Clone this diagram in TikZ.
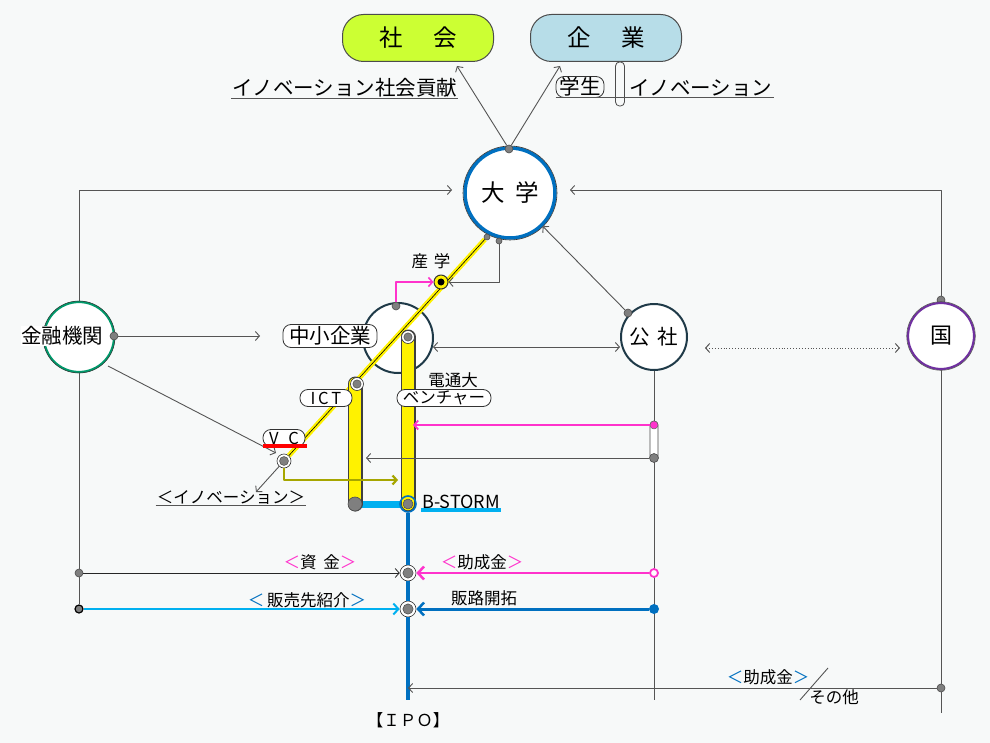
\documentclass[tikz,border=0pt]{standalone}
\usepackage{fontspec}
\setmainfont{Noto Sans CJK JP}
\usetikzlibrary{arrows.meta, calc}
\definecolor{bgcol}{HTML}{F7F9F9}
\definecolor{linegray}{HTML}{555555}
\definecolor{dotgray}{HTML}{7F7F7F}
\definecolor{shakaigreen}{HTML}{CCFF33}
\definecolor{kigyoblue}{HTML}{B7DDE8}
\definecolor{univblue}{HTML}{0070C0}
\definecolor{skyc}{HTML}{00B0F0}
\definecolor{pinkc}{HTML}{FF33CC}
\definecolor{olivec}{HTML}{A6A600}
\definecolor{kinyugreen}{HTML}{00996B}
\definecolor{kunipurple}{HTML}{7030A0}
\definecolor{darkteal}{HTML}{1F3A48}
\newcommand\fsL{\fontsize{23.5}{26}\selectfont}
\newcommand\fsB{\fontsize{20.5}{22}\selectfont}
\newcommand\fsM{\fontsize{16.5}{18}\selectfont}
\tikzset{
  gline/.style={draw=linegray, line width=0.9pt},
  tip/.style={-{Straight Barb[length=4pt,width=9pt]}},
  bigtip/.style={-{Straight Barb[length=6pt,width=13pt,line width=2.5pt]}},
  gdot/.style={circle, fill=dotgray, draw=black!70, line width=0.6pt, minimum size=8pt, inner sep=0pt},
  ringdot/.style={circle, draw=black!80, line width=0.6pt, fill=white, minimum size=#1, inner sep=0pt,
    path picture={\fill[dotgray] (path picture bounding box.center) circle (0.32*#1);
      \draw[black!70, line width=0.5pt] (path picture bounding box.center) circle (0.32*#1);}},
  ringdot/.default=16pt,
  topbox/.style={rounded corners=21pt, draw=black!70, line width=1pt, minimum width=151pt,
    minimum height=47pt, font=\fsL},
  tag/.style={rounded corners=8pt, draw=black!80, line width=0.8pt, fill=white, inner sep=0pt, font=\fsB},
  actor/.style={circle, fill=white, line width=2pt, inner sep=0pt, font=\fsB},
  capsule/.style={rounded corners=4pt, draw=black!70, line width=0.8pt, fill=white, minimum width=9pt, inner sep=0pt}
}
\begin{document}
\begin{tikzpicture}[x=1pt, y=-1pt, line join=round]
\fill[bgcol] (0,0) rectangle (990,743);
\useasboundingbox (0,0) rectangle (990,743);

% society / companies
\node[topbox, fill=shakaigreen] (shakai) at (418,38) {社\hspace{1.3em}会};
\node[topbox, fill=kigyoblue] (kigyo) at (606,38) {企\hspace{1.3em}業};
\coordinate (shakaiIn) at (457,66);
\coordinate (kigyoIn) at (560,66);
\node[anchor=west, font=\fsB, inner sep=1pt] (socinno) at (231,88) {イノベーション社会貢献};
\draw[gline] (socinno.south west) -- (socinno.south east);
\node[tag, minimum width=48pt, minimum height=21pt, fill=bgcol] (gakusei) at (580,87) {学生};
\node[capsule, minimum height=44pt, fill=bgcol] (gbar) at (620,84) {};
\node[anchor=west, font=\fsB, inner sep=1pt] (kiginno) at (628,88) {イノベーション};
\draw[gline] (gakusei.west |- kiginno.south) -- (kiginno.south east);

% frame lines
\coordinate (uLeft) at (452,190);
\coordinate (uRight) at (570,190);
\node[gdot] (kuniTop) at (941,300) {};
\draw[gline, tip] (79,302) |- (uLeft);
\draw[gline, tip] (kuniTop) |- (uRight);

% actors
\node[actor, minimum size=90pt, draw=univblue, line width=3.5pt, font=\fsL] (daigaku) at (510,193) {大\hspace{0.45em}学};
\draw[black!80, line width=0.6pt] (daigaku.center) circle (47pt);
\node[actor, minimum size=70pt, draw=kinyugreen, line width=2.2pt] (kinyu) at (79,337) {};
\draw[black!80, line width=0.5pt] (kinyu.center) circle (36pt);
\node[font=\fsB, fill=white, inner sep=0.5pt] (kinyuTxt) at (62,336) {金融機関};
\node[actor, minimum size=70pt, draw=darkteal] (chusho) at (398,338) {};
\node[actor, minimum size=66pt, draw=darkteal] (kosha) at (654,337) {公\hspace{0.35em}社};
\node[actor, minimum size=66pt, draw=kunipurple, line width=2.2pt, font=\fontsize{22}{24}\selectfont] (kuni) at (941,336) {国};
\draw[black!70, line width=0.5pt] (kuni.center) circle (34.3pt);

% university links
\node[gdot] (uTop) at (509,149) {};
\draw[gline, tip] (uTop) -- (shakaiIn);
\draw[gline, tip] (uTop) -- (kigyoIn);
\node[gdot, minimum size=6pt] (uY) at (487,237) {};
\node[gdot, minimum size=6pt] (uG) at (499,241) {};
\node[gdot] (koshaDot) at (628,313) {};
\draw[gline, tip] (koshaDot) -- (daigaku);

% 金融機関 links
\node[gdot] (kinyuR) at (114,336) {};
\coordinate (toChusho) at (260,336);
\draw[gline, tip] (kinyuR) -- (toChusho);
\coordinate (kinyuSE) at (108,366);
\coordinate (toVC) at (276,453);
\draw[gline, tip] (kinyuSE) -- (toVC);
\node[gdot] (kinyuA) at (79,573) {};
\node[gdot, draw=black, line width=1.2pt] (kinyuB) at (79,609) {};
\draw[gline] (kinyu) -- (kinyuA) -- (kinyuB);

% yellow innovation line
\node[ringdot=14pt] (vc) at (284,461) {};
\draw[yellow, line width=5pt] (uY) -- (vc);
\draw[black, line width=0.6pt] (uY) -- (vc);

% 産学
\node[gdot] (chushoTop) at (396,306) {};
\node[circle, fill=yellow, draw=black!80, line width=1pt, minimum size=14pt, inner sep=0pt,
  path picture={\fill[black] (path picture bounding box.center) circle (3.5pt);}] (sangaku) at (441,282) {};
\node[font=\fsM] at (431,261) {産\hspace{0.35em}学};
\draw[pinkc, line width=1.6pt, tip] (chushoTop) |- (sangaku);
\draw[gline, tip] (uG) |- (sangaku);

% bars
\coordinate (ictTop) at (355,384);
\coordinate (ictBot) at (355,504);
\coordinate (ventTop) at (408,337);
\coordinate (ventBot) at (408,504);
\draw[skyc, line width=7pt] (ictBot) -- (ventBot);
\foreach \a/\b in {ictTop/ictBot, ventTop/ventBot}{
  \draw[black!75, line width=15pt, line cap=round] (\a) -- (\b);
  \draw[yellow, line width=12.5pt, line cap=round] (\a) -- (\b);
}
\node[ringdot=13pt] (ict) at (357,384) {};
\node[ringdot=13pt] (vent) at (408,337) {};
\node[gdot, minimum size=14pt] (ictEnd) at (ictBot) {};

% main IPO line
\node[circle, draw=univblue, line width=1.6pt, minimum size=16pt, inner sep=0pt,
  path picture={\fill[dotgray] (path picture bounding box.center) circle (5pt);
    \draw[black!70, line width=0.5pt] (path picture bounding box.center) circle (5pt);}] (bstorm) at (ventBot) {};
\node[ringdot] (ipoA) at (408,573) {};
\node[ringdot] (ipoB) at (408,609) {};
\coordinate (ipoEnd) at (408,700);
\draw[univblue, line width=3.5pt] (bstorm) -- (ipoA) -- (ipoB) -- (ipoEnd);
\node[font=\fsM] (ipo) at (408,720) {【ＩＰＯ】};
\node[font=\fontsize{18}{20}\selectfont, anchor=west, inner sep=1pt] (bsTxt) at (421,502) {B-STORM};
\draw[skyc, line width=3.5pt] (bsTxt.south west) -- (bsTxt.south east);

% labels on the yellow line
\node[tag, minimum width=94pt, minimum height=23pt] (chushoTag) at (330,336) {中小企業};
\node[tag, minimum width=52pt, minimum height=17pt, font=\fsM] (ictTag) at (326,398) {I\,C\,T};
\node[font=\fsM] (dentsu) at (453,380) {電通大};
\node[tag, minimum width=94pt, minimum height=17pt, font=\fsM] (ventTag) at (444,398) {ベンチャー};
\node[tag, minimum width=42pt, minimum height=17pt, font=\fsM] (vcTag) at (284,438) {V\hspace{0.6em}C};
\draw[red, line width=3.5pt] (263,446) -- (307,446);

% VC links
\coordinate (vcOut) at (398,480);
\draw[olivec, line width=2.2pt, tip] (vc) |- (vcOut);
\coordinate (toInno) at (256,492);
\draw[gline, tip] (vc) -- (toInno);
\node[font=\fsM, inner sep=1pt] (vcInno) at (231,497) {＜イノベーション＞};
\draw[gline] (vcInno.south west) -- (vcInno.south east);

% 公社 links
\coordinate (chushoR) at (433,347);
\coordinate (koshaL) at (620,347);
\draw[gline, {Straight Barb[length=4pt,width=9pt]}-{Straight Barb[length=4pt,width=9pt]}] (chushoR) -- (koshaL);
\coordinate (koshaR) at (705,348);
\coordinate (kuniL) at (900,348);
\draw[gline, dotted, line width=1pt, {Straight Barb[length=4pt,width=9pt]}-{Straight Barb[length=4pt,width=9pt]}] (koshaR) -- (kuniL);
\coordinate (koshaEnd) at (654,700);
\draw[gline] (kosha) -- (koshaEnd);
\node[capsule, minimum width=8pt, minimum height=40pt, fill=white] (kbar) at (654,441) {};
\node[circle, fill=pinkc, draw=black!60, line width=0.5pt, minimum size=8pt, inner sep=0pt] (kPink) at (654,425) {};
\node[gdot, minimum size=9pt] (kGray) at (654,458) {};
\coordinate (ventIn) at (413,425);
\coordinate (ictIn) at (366,458);
\draw[pinkc, line width=1.8pt, tip] (kPink) -- (ventIn);
\draw[gline, tip] (kGray) -- (ictIn);
\node[circle, fill=white, draw=pinkc, line width=1.8pt, minimum size=8pt, inner sep=0pt] (kSub) at (654,573) {};
\node[circle, fill=univblue, minimum size=10pt, inner sep=0pt] (kSales) at (654,609) {};
\draw[pinkc, line width=2.5pt, bigtip] (kSub) -- (ipoA);
\draw[univblue, line width=3pt, bigtip] (kSales) -- (ipoB);
\node[font=\fsM] at (482,562) {{\color{pinkc}＜}助成金{\color{pinkc}＞}};
\node[font=\fsM] at (484,598) {販路開拓};

% 金融機関 to IPO
\draw[black!85, line width=0.8pt, tip] (kinyuA) -- (ipoA);
\draw[skyc, line width=2.2pt, -{Straight Barb[length=5pt,width=11pt,line width=2pt]}] (kinyuB) -- (ipoB);
\node[font=\fsM] at (320,562) {{\color{pinkc}＜}資\hspace{0.4em}金{\color{pinkc}＞}};
\node[font=\fsM] at (307,600) {{\color{univblue}＜}\,販売先紹介{\color{univblue}＞}};

% 国 to IPO
\coordinate (kuniEnd) at (941,713);
\node[gdot] (kuniSub) at (941,688) {};
\draw[gline] (kuni) -- (kuniSub) -- (kuniEnd);
\draw[gline, tip] (kuniSub) -- (ipoEnd |- kuniSub);
\node[font=\fsM] at (768,677) {{\color{univblue}＜}助成金{\color{univblue}＞}};
\draw[gline] (800,700) -- (828,668);
\node[font=\fsM] at (834,697) {その他};
\end{tikzpicture}
\end{document}
